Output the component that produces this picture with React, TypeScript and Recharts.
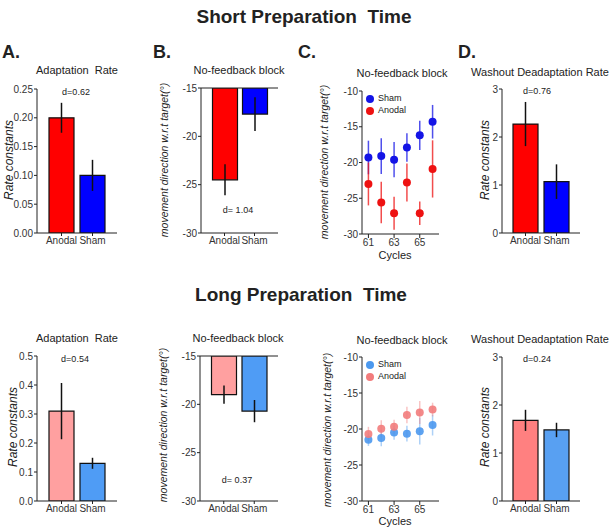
import React from "react";
import {
  Bar,
  BarChart,
  Cell,
  ErrorBar,
  Legend,
  ReferenceLine,
  Scatter,
  ScatterChart,
  XAxis,
  YAxis,
} from "recharts";

const groups = ["Anodal", "Sham"];

// short preparation time
const shortRate = [0.2, 0.1];
const shortRateErr = [0.026, 0.027];
const shortNoFb = [-24.5, -17.7];
const shortNoFbErr = [1.6, 1.75];
const shortWashout = [2.27, 1.07];
const shortWashoutErr = [0.46, 0.36];

// long preparation time
const longRate = [0.31, 0.13];
const longRateErr = [0.097, 0.019];
const longNoFb = [-19.0, -20.7];
const longNoFbErr = [0.95, 1.15];
const longWashout = [1.68, 1.48];
const longWashoutErr = [0.22, 0.15];

// no-feedback block by cycle
const cycles = [61, 62, 63, 64, 65, 66];
const cycleTicks = [61, 63, 65];
const shortSham = [-19.3, -19.1, -19.6, -17.9, -16.2, -14.3];
const shortShamErr = [2.35, 2.5, 2.45, 2.0, 2.05, 2.35];
const shortAnodal = [-23.0, -25.6, -27.1, -22.8, -27.1, -20.9];
const shortAnodalErr = [3.0, 2.9, 2.3, 2.65, 1.65, 4.0];
const longSham = [-21.5, -21.25, -20.5, -20.65, -20.3, -19.45];
const longShamErr = [0.85, 1.15, 1.0, 1.1, 1.85, 1.45];
const longAnodal = [-20.7, -19.95, -19.7, -18.05, -17.7, -17.3];
const longAnodalErr = [1.0, 1.15, 1.0, 1.15, 1.6, 0.95];

const rateTicksShort = [0, 0.05, 0.1, 0.15, 0.2, 0.25];
const rateTicksLong = [0, 0.1, 0.2, 0.3, 0.4, 0.5];
const directionTicks = [-30, -25, -20, -15];
const cycleDirectionTicks = [-30, -25, -20, -15, -10];
const washoutTicks = [0, 1, 2, 3];

const INK = "#222";
const YW = 40;
const XH = 26;
const MT = 6;
const MR = 4;

type Rect = { left: number; top: number; right: number; bottom: number };

const tickStyle = { fontSize: 10, fill: "#333" };
const lineStyle = { stroke: INK, strokeWidth: 1 };

const chartSize = (r: Rect) => ({
  width: r.right - r.left + YW + MR,
  height: r.bottom - r.top + MT + XH,
});

const Txt = ({ x, y, size, bold, italic, rotate, children }: any) => (
  <div
    style={{
      position: "absolute",
      left: x,
      top: y,
      transform: `translate(-50%, -50%)${rotate ? " rotate(-90deg)" : ""}`,
      fontSize: size,
      fontWeight: bold ? 700 : 400,
      fontStyle: italic ? "italic" : "normal",
      whiteSpace: "nowrap",
      lineHeight: 1,
      color: INK,
    }}
  >
    {children}
  </div>
);

const BarPanel = ({ rect, values, errors, colors, domain, ticks, fmt, pad, refLine }: any) => {
  const data = groups.map((g, i) => ({ group: g, value: values[i], err: errors[i] }));
  const { width, height } = chartSize(rect);
  return (
    <div style={{ position: "absolute", left: rect.left - YW, top: rect.top - MT }}>
      <BarChart
        width={width}
        height={height}
        data={data}
        margin={{ top: MT, right: MR, left: 0, bottom: 0 }}
        barSize={25}
      >
        <XAxis
          dataKey="group"
          height={XH}
          padding={{ left: pad, right: pad }}
          interval={0}
          tickSize={3}
          tickMargin={1}
          tick={tickStyle}
          axisLine={lineStyle}
          tickLine={lineStyle}
        />
        <YAxis
          width={YW}
          type="number"
          domain={domain}
          ticks={ticks}
          tickFormatter={fmt}
          interval={0}
          allowDataOverflow
          tickSize={3}
          tickMargin={1}
          tick={tickStyle}
          axisLine={lineStyle}
          tickLine={lineStyle}
        />
        {refLine !== undefined && <ReferenceLine y={refLine} stroke={INK} strokeWidth={1} />}
        <Bar dataKey="value" isAnimationActive={false} stroke="#111" strokeWidth={1.2}>
          {data.map((d, i) => (
            <Cell key={d.group} fill={colors[i]} />
          ))}
          <ErrorBar dataKey="err" width={0} stroke="#111" strokeWidth={1.5} />
        </Bar>
      </BarChart>
    </div>
  );
};

const legendOrder = ["Sham", "Anodal"];

const CyclePanel = ({ rect, sham, shamErr, anodal, anodalErr, shamColor, anodalColor, dotOpacity, errOpacity }: any) => {
  const shamData = cycles.map((c, i) => ({ cycle: c, value: sham[i], err: shamErr[i] }));
  const anodalData = cycles.map((c, i) => ({ cycle: c, value: anodal[i], err: anodalErr[i] }));
  const { width, height } = chartSize(rect);
  const dot = (color: string) => (p: any) => (
    <circle cx={p.cx} cy={p.cy} r={4} fill={color} fillOpacity={dotOpacity} />
  );
  return (
    <div style={{ position: "absolute", left: rect.left - YW, top: rect.top - MT }}>
      <ScatterChart width={width} height={height} margin={{ top: MT, right: MR, left: 0, bottom: 0 }}>
        <XAxis
          type="number"
          dataKey="cycle"
          domain={[60.5, 66.5]}
          ticks={cycleTicks}
          interval={0}
          height={XH}
          tickSize={4}
          tickMargin={1}
          tick={tickStyle}
          axisLine={lineStyle}
          tickLine={lineStyle}
        />
        <YAxis
          type="number"
          dataKey="value"
          width={YW}
          domain={[-30, -10]}
          ticks={cycleDirectionTicks}
          interval={0}
          allowDataOverflow
          tickSize={3}
          tickMargin={1}
          tick={tickStyle}
          axisLine={lineStyle}
          tickLine={lineStyle}
        />
        <Legend
          layout="vertical"
          align="center"
          verticalAlign="middle"
          iconType="circle"
          iconSize={8}
          itemSorter={(item: any) => legendOrder.indexOf(item.value)}
          wrapperStyle={{ left: 44, top: 7, width: 60, height: 26, fontSize: 9, lineHeight: "12px" }}
          formatter={(v: any) => <span style={{ color: INK }}>{v}</span>}
        />
        <Scatter name="Sham" data={shamData} fill={shamColor} shape={dot(shamColor)} isAnimationActive={false}>
          <ErrorBar dataKey="err" direction="y" width={0} stroke={shamColor} strokeOpacity={errOpacity} strokeWidth={1.5} />
        </Scatter>
        <Scatter name="Anodal" data={anodalData} fill={anodalColor} shape={dot(anodalColor)} isAnimationActive={false}>
          <ErrorBar dataKey="err" direction="y" width={0} stroke={anodalColor} strokeOpacity={errOpacity} strokeWidth={1.5} />
        </Scatter>
      </ScatterChart>
    </div>
  );
};

const dirLabel = "movement direction w.r.t target(°)";

export default function App() {
  return (
    <div
      style={{
        position: "absolute",
        left: 0,
        top: 0,
        width: 610,
        height: 528,
        background: "#fff",
        fontFamily: "'Liberation Sans', Arial, sans-serif",
        overflow: "hidden",
      }}
    >
      <Txt x={304} y={16} size={19} bold>Short Preparation&nbsp; Time</Txt>
      <Txt x={301} y={294} size={19} bold>Long Preparation&nbsp; Time</Txt>

      <Txt x={11} y={52} size={18} bold>A.</Txt>
      <Txt x={162} y={52} size={18} bold>B.</Txt>
      <Txt x={307} y={52} size={18} bold>C.</Txt>
      <Txt x={467} y={52} size={18} bold>D.</Txt>

      <Txt x={77} y={70} size={11}>Adaptation&nbsp; Rate</Txt>
      <Txt x={239} y={70} size={11}>No-feedback block</Txt>
      <Txt x={402} y={73} size={11}>No-feedback block</Txt>
      <Txt x={540} y={72} size={11}>Washout Deadaptation Rate</Txt>

      <Txt x={77} y={338} size={11}>Adaptation&nbsp; Rate</Txt>
      <Txt x={238} y={338} size={11}>No-feedback block</Txt>
      <Txt x={402} y={340} size={11}>No-feedback block</Txt>
      <Txt x={540} y={339} size={11}>Washout Deadaptation Rate</Txt>

      <Txt x={9} y={160} size={12} italic rotate>Rate constants</Txt>
      <Txt x={164} y={160} size={10.5} italic rotate>{dirLabel}</Txt>
      <Txt x={324} y={162} size={10.5} italic rotate>{dirLabel}</Txt>
      <Txt x={485} y={160} size={12} italic rotate>Rate constants</Txt>

      <Txt x={13} y={427} size={12} italic rotate>Rate constants</Txt>
      <Txt x={163} y={425} size={10.5} italic rotate>{dirLabel}</Txt>
      <Txt x={327} y={430} size={10.5} italic rotate>{dirLabel}</Txt>
      <Txt x={485} y={427} size={12} italic rotate>Rate constants</Txt>

      <Txt x={395} y={255} size={11}>Cycles</Txt>
      <Txt x={395} y={521} size={11}>Cycles</Txt>

      <BarPanel
        rect={{ left: 37, top: 89, right: 117, bottom: 233 }}
        values={shortRate}
        errors={shortRateErr}
        colors={["#ff0000", "#0000ff"]}
        domain={[0, 0.25]}
        ticks={rateTicksShort}
        fmt={(v: number) => v.toFixed(2)}
        pad={9}
      />
      <BarPanel
        rect={{ left: 201, top: 88, right: 278, bottom: 233 }}
        values={shortNoFb}
        errors={shortNoFbErr}
        colors={["#ff0000", "#0000ff"]}
        domain={[-30, -15]}
        ticks={directionTicks}
        pad={8.5}
        refLine={-15}
      />
      <CyclePanel
        rect={{ left: 362, top: 91, right: 439, bottom: 234 }}
        sham={shortSham}
        shamErr={shortShamErr}
        anodal={shortAnodal}
        anodalErr={shortAnodalErr}
        shamColor="#1414e6"
        anodalColor="#ee1111"
        dotOpacity={1}
        errOpacity={0.75}
      />
      <BarPanel
        rect={{ left: 502, top: 89, right: 580, bottom: 233 }}
        values={shortWashout}
        errors={shortWashoutErr}
        colors={["#ff0000", "#0000ff"]}
        domain={[0, 3]}
        ticks={washoutTicks}
        pad={8}
      />

      <BarPanel
        rect={{ left: 37, top: 356, right: 117, bottom: 501 }}
        values={longRate}
        errors={longRateErr}
        colors={["#ffa0a0", "#4f9cf5"]}
        domain={[0, 0.5]}
        ticks={rateTicksLong}
        fmt={(v: number) => v.toFixed(1)}
        pad={9}
      />
      <BarPanel
        rect={{ left: 200, top: 356, right: 278, bottom: 501 }}
        values={longNoFb}
        errors={longNoFbErr}
        colors={["#ffa0a0", "#4f9cf5"]}
        domain={[-30, -15]}
        ticks={directionTicks}
        pad={8.5}
        refLine={-15}
      />
      <CyclePanel
        rect={{ left: 362, top: 357, right: 439, bottom: 501 }}
        sham={longSham}
        shamErr={longShamErr}
        anodal={longAnodal}
        anodalErr={longAnodalErr}
        shamColor="#4b98ee"
        anodalColor="#f27c7c"
        dotOpacity={0.9}
        errOpacity={0.45}
      />
      <BarPanel
        rect={{ left: 502, top: 357, right: 580, bottom: 501 }}
        values={longWashout}
        errors={longWashoutErr}
        colors={["#ff8080", "#58a0f2"]}
        domain={[0, 3]}
        ticks={washoutTicks}
        pad={8}
      />

      <Txt x={76} y={92} size={9}>d=0.62</Txt>
      <Txt x={238} y={210} size={9}>d= 1.04</Txt>
      <Txt x={537} y={91} size={9}>d=0.76</Txt>
      <Txt x={75} y={359} size={9}>d=0.54</Txt>
      <Txt x={237} y={480} size={9}>d= 0.37</Txt>
      <Txt x={537} y={359} size={9}>d=0.24</Txt>
    </div>
  );
}
